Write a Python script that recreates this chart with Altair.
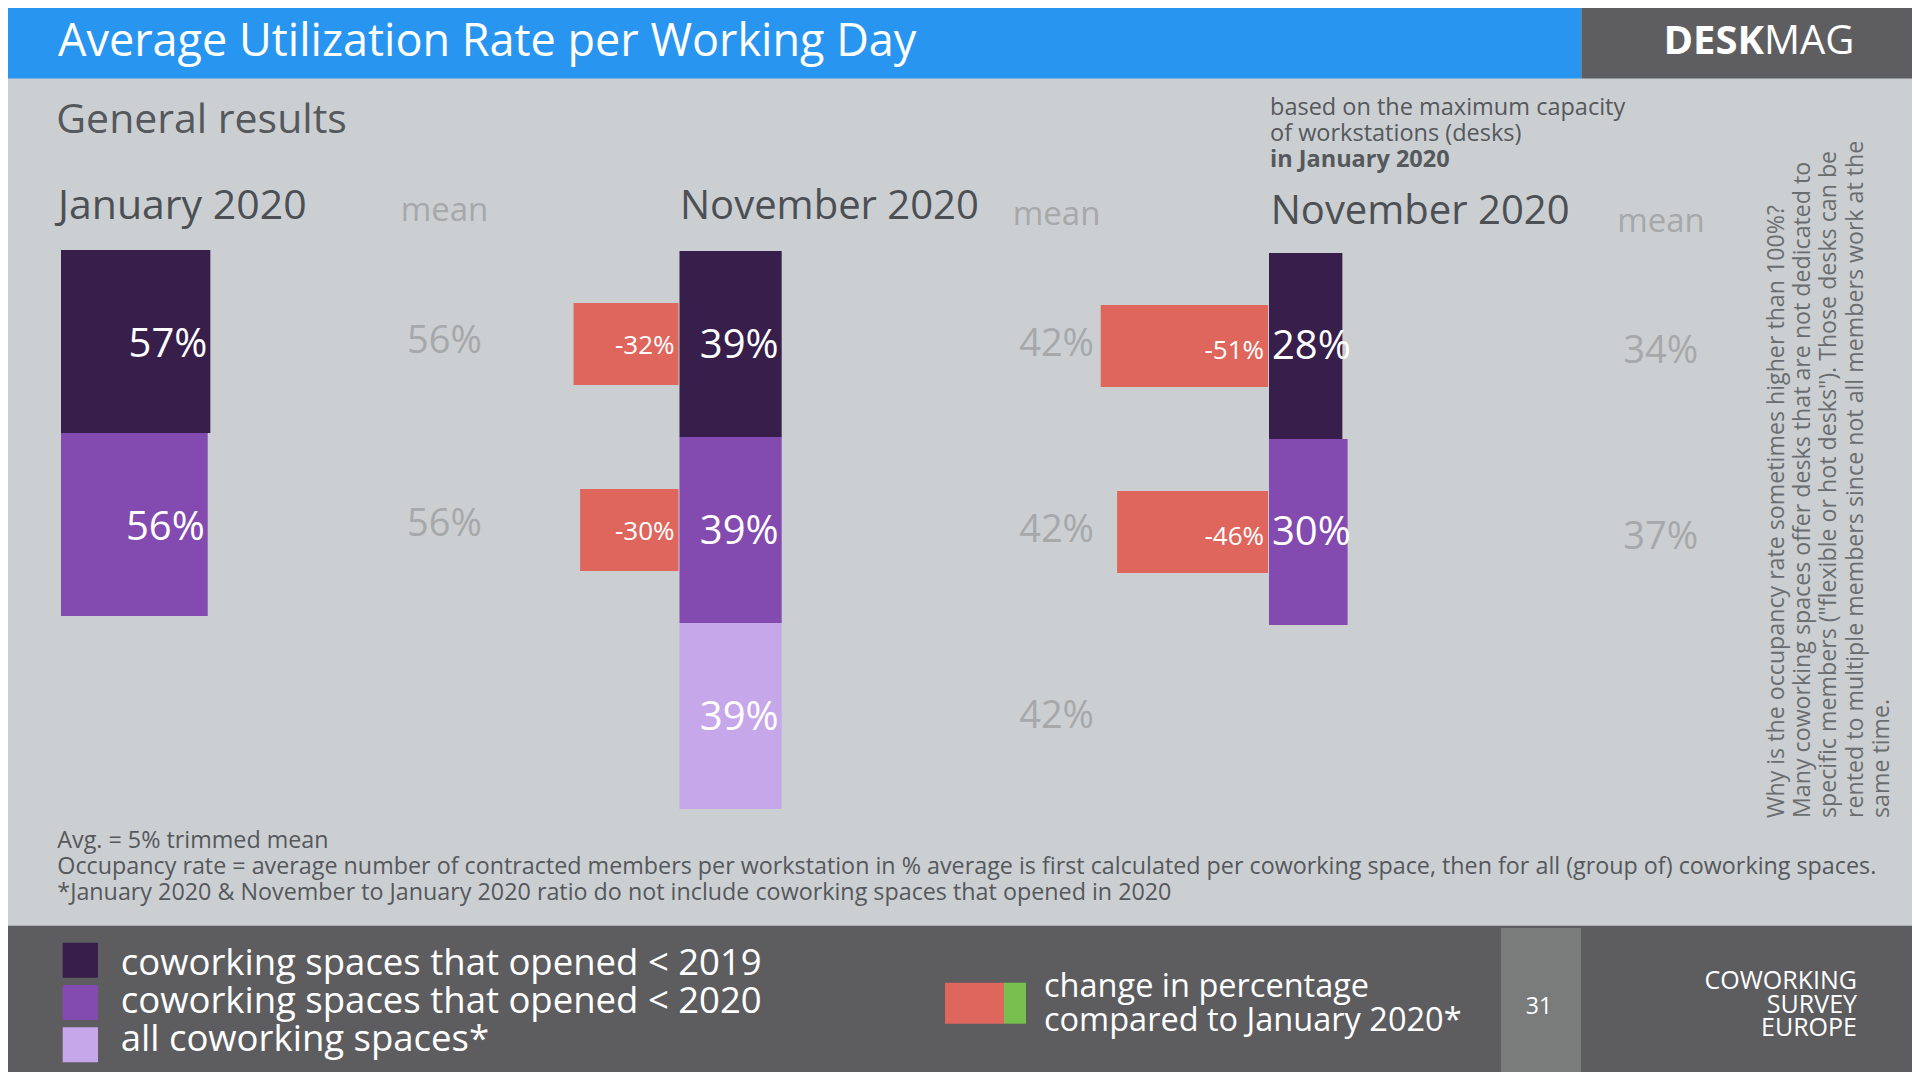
import altair as alt
import pandas as pd

# ---------------- data ----------------
groups = ["coworking spaces that opened < 2019",
          "coworking spaces that opened < 2020",
          "all coworking spaces*"]
group_colors = ["#371e4b", "#834ab0", "#c6a7e9"]

jan_groups = groups[:2]
jan_rate = [57, 56]
jan_mean = [56, 56]

nov_groups = groups
nov_rate = [39, 39, 39]
nov_mean = [42, 42, 42]
nov_change = [-32, -30]

cap_groups = groups[:2]
cap_rate = [28, 30]
cap_mean = [34, 37]
cap_change = [-51, -46]

# ---------------- style ----------------
FONT = "Open Sans"
BG = "#cbcfd2"
BLUE = "#2896f0"
HEAD_GREY = "#5e5e60"
FOOT_GREY = "#5d5d5f"
PAGE_GREY = "#7a7b7b"
RED = "#de665c"
GREEN = "#78bf4f"
DARK_TXT = "#4c5055"
MEAN_TXT = "#a6a8aa"
NOTE_TXT = "#55585c"
SIDE_TXT = "#6a6d70"

W, H = 1904, 1064
PX_RATE = 2.62   # px per % for utilisation bars
PX_CHG = 3.28    # px per % for change bars

one = pd.DataFrame({"k": [0]})
color_scale = alt.Scale(domain=groups, range=group_colors)


def rect(x, x2, y, y2, color):
    return alt.Chart(one).mark_rect(color=color).encode(
        x=alt.value(x), x2=alt.value(x2), y=alt.value(y), y2=alt.value(y2))


def txt(s, x, y, size, color, weight="normal", align="left",
        baseline="alphabetic", angle=0, line_height=None):
    kw = dict(text=s, fontSize=size, color=color, fontWeight=weight, align=align,
              baseline=baseline, font=FONT)
    if angle:
        kw["angle"] = angle
    if line_height:
        kw["lineHeight"] = line_height
    return alt.Chart(one).mark_text(**kw).encode(x=alt.value(x), y=alt.value(y))


def panel(grp, rate, mean, change, x0, mean_x, row_top, row_h,
          label_left=False, vdy=3, mdy=2, cdy=3):
    n = len(groups)
    ys = alt.Scale(domain=groups, range=[row_top, row_top + n * row_h],
                   paddingInner=0, paddingOuter=0)
    xs = alt.Scale(domain=[0, 100], range=[x0, x0 + 100 * PX_RATE], nice=False, zero=True)
    df = pd.DataFrame({"group": grp, "rate": rate, "mean": mean})
    base = alt.Chart(df).transform_calculate(
        label="datum.rate + '%'", mlabel="datum.mean + '%'", zero="0")
    out = []
    if change:
        xr = alt.Scale(domain=[-100, 0], range=[x0 - 1 - 100 * PX_CHG, x0 - 1], nice=False)
        dc = pd.DataFrame({"group": grp[:len(change)], "change": change})
        cb = alt.Chart(dc).transform_calculate(clabel="datum.change + '%'", zero="0")
        out.append(cb.mark_bar(height=82, color=RED).encode(
            x=alt.X("change:Q", scale=xr, axis=None, stack=None),
            y=alt.Y("group:N", scale=ys, axis=None)))
        out.append(cb.mark_text(align="right", dx=-4, dy=cdy, baseline="middle",
                                color="white", fontSize=26, font=FONT).encode(
            x=alt.X("zero:Q", scale=xr, axis=None),
            y=alt.Y("group:N", scale=ys, axis=None),
            text="clabel:N"))
    out.append(base.mark_bar().encode(
        x=alt.X("rate:Q", scale=xs, axis=None, stack=None),
        y=alt.Y("group:N", scale=ys, axis=None),
        color=alt.Color("group:N", scale=color_scale, legend=None)))
    if label_left:
        out.append(base.mark_text(align="left", dx=3, dy=vdy, baseline="middle",
                                  color="white", fontSize=40, font=FONT).encode(
            x=alt.X("zero:Q", scale=xs, axis=None),
            y=alt.Y("group:N", scale=ys, axis=None), text="label:N"))
    else:
        out.append(base.mark_text(align="right", dx=-3, dy=vdy, baseline="middle",
                                  color="white", fontSize=40, font=FONT).encode(
            x=alt.X("rate:Q", scale=xs, axis=None),
            y=alt.Y("group:N", scale=ys, axis=None), text="label:N"))
    out.append(base.mark_text(align="center", dy=mdy, baseline="middle",
                              color=MEAN_TXT, fontSize=38, font=FONT).encode(
        x=alt.value(mean_x),
        y=alt.Y("group:N", scale=ys, axis=None), text="mlabel:N"))
    return out


layers = []
# header & footer bands
layers.append(rect(0, 1573.4, 0, 70.5, BLUE))
layers.append(rect(1573.4, W, 0, 70.5, HEAD_GREY))
layers.append(rect(0, W, 917.7, H, FOOT_GREY))
layers.append(rect(1493, 1573, 920, H, PAGE_GREY))

# header texts
layers.append(txt("Average Utilization Rate per Working Day", 50, 48, 45, "white", weight=500))
layers.append(txt("DESK", 1756, 46, 40, "white", weight="bold", align="right"))
layers.append(txt("MAG", 1756, 46, 40, "white"))

# body headings
layers.append(txt("General results", 48.3, 124.6, 41, NOTE_TXT, weight=500))
layers.append(txt("January 2020", 50, 211, 41, DARK_TXT, weight=500))
layers.append(txt("mean", 436.5, 213, 33, MEAN_TXT, align="center"))
layers.append(txt("November 2020", 672, 210.6, 40, DARK_TXT, weight=500))
layers.append(txt("mean", 1048.6, 216.6, 33, MEAN_TXT, align="center"))
layers.append(txt(["based on the maximum capacity", "of workstations (desks)"],
                  1262, 107.4, 23.5, NOTE_TXT, line_height=25.8))
layers.append(txt("in January 2020", 1262, 159, 23.5, NOTE_TXT, weight="bold"))
layers.append(txt("November 2020", 1262.7, 215.6, 40, DARK_TXT, weight=500))
layers.append(txt("mean", 1653, 224.4, 33, MEAN_TXT, align="center"))

# panels
layers += panel(jan_groups, jan_rate, jan_mean, None, 53, 436.5, 242, 183, vdy=3, mdy=0)
layers += panel(nov_groups, nov_rate, nov_mean, nov_change, 671.5, 1048.6, 243, 186,
                vdy=2, mdy=1, cdy=2)
layers += panel(cap_groups, cap_rate, cap_mean, cap_change, 1261, 1652.7, 245, 186,
                label_left=True, vdy=1, mdy=6, cdy=4.5)

# side note (rotated)
layers.append(txt(["Why is the occupancy rate sometimes higher than 100%?",
                   "Many coworking spaces offer desks that are not dedicated to",
                   "specific members (\"flexible or hot desks\"). Those desks can be",
                   "rented to multiple members since not all members work at the",
                   "same time."],
                  1775.6, 810, 23.2, SIDE_TXT, angle=270, line_height=26.4))

# notes
layers.append(txt(["Avg. = 5% trimmed mean",
                   "Occupancy rate = average number of contracted members per workstation in % average is first calculated per coworking space, then for all (group of) coworking spaces.",
                   "*January 2020 & November to January 2020 ratio do not include coworking spaces that opened in 2020"],
                  49.3, 839.7, 23.3, NOTE_TXT, line_height=26.2))

# legend (groups)
leg = pd.DataFrame({"group": groups})
leg_sq = alt.Scale(domain=groups, range=[931.2, 1057.9], paddingInner=0, paddingOuter=0)
leg_tx = alt.Scale(domain=groups, range=[936.5, 1051], paddingInner=0, paddingOuter=0)
layers.append(alt.Chart(leg).mark_bar(height=35).encode(
    x=alt.value(54.7), x2=alt.value(90),
    y=alt.Y("group:N", scale=leg_sq, axis=None),
    color=alt.Color("group:N", scale=color_scale, legend=None)))
layers.append(alt.Chart(leg).mark_text(align="left", baseline="middle", fontSize=36.5,
                                       color="white", font=FONT, dy=0).encode(
    x=alt.value(112.7), y=alt.Y("group:N", scale=leg_tx, axis=None), text="group:N"))

# change legend
layers.append(rect(937, 996, 974.7, 1015.7, RED))
layers.append(rect(996, 1018, 974.7, 1015.7, GREEN))
layers.append(txt(["change in percentage", "compared to January 2020*"],
                  1036, 988.7, 32.5, "white", line_height=34.3))

# page number and brand
layers.append(txt("31", 1531, 1005.5, 23, "white", align="center"))
layers.append(txt(["COWORKING", "SURVEY", "EUROPE"], 1849, 981.4, 25, "white",
                  align="right", line_height=23.3))

chart = alt.layer(*layers).resolve_scale(
    x="independent", y="independent"
).properties(
    width=W, height=H, padding=0,
    autosize=alt.AutoSizeParams(type="none")
).configure(background=BG).configure_view(stroke=None)

chart.save("out.html", embed_options={"renderer": "svg", "actions": False})
